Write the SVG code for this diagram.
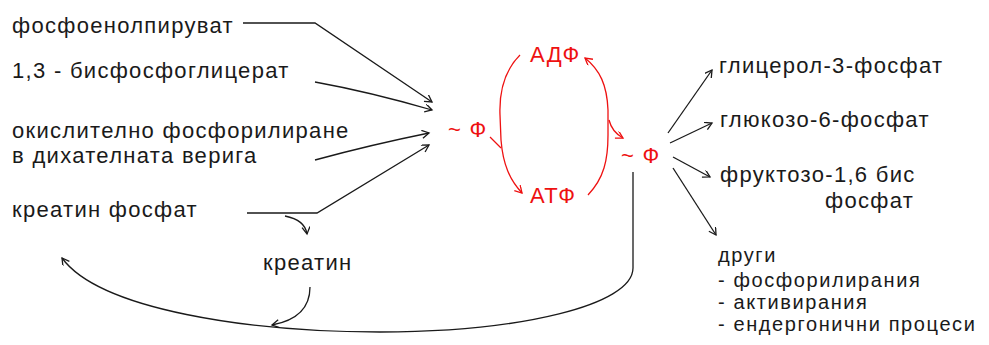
<svg xmlns="http://www.w3.org/2000/svg" width="989" height="345" viewBox="0 0 989 345">
<defs>
<style>
.t{font-family:"Liberation Sans",Arial,sans-serif;font-size:22px;letter-spacing:1.3px;fill:#1a1a1a}
.s{font-family:"Liberation Sans",Arial,sans-serif;font-size:20px;letter-spacing:1.6px;fill:#1a1a1a}
.r{font-family:"Liberation Sans",Arial,sans-serif;font-size:22px;letter-spacing:1.3px;fill:#ee1111}
.k{fill:none;stroke:#1a1a1a;stroke-width:1.3}
.kr{fill:none;stroke:#ee1111;stroke-width:1.3}
</style>
<marker id="ah" markerWidth="10" markerHeight="10" refX="8" refY="4" orient="auto" markerUnits="userSpaceOnUse">
<path d="M1,0 L8,4 L1,8" fill="none" stroke="#1a1a1a" stroke-width="1.3"/>
</marker>
<marker id="ahr" markerWidth="10" markerHeight="10" refX="8" refY="4" orient="auto" markerUnits="userSpaceOnUse">
<path d="M1,0 L8,4 L1,8" fill="none" stroke="#ee1111" stroke-width="1.3"/>
</marker>
</defs>
<rect width="989" height="345" fill="#ffffff"/>
<g id="pep"><text class="t" x="12" y="33">фосфоенолпируват</text></g>
<g id="bpg"><text class="t" x="12" y="78">1,3 - бисфосфоглицерат</text></g>
<g id="oxphos"><text class="t" x="12" y="138">окислително фосфорилиране</text><text class="t" x="12" y="163">в дихателната верига</text></g>
<g id="crp"><text class="t" x="12" y="217">креатин фосфат</text></g>
<g id="creatine"><text class="t" x="263" y="270">креатин</text></g>
<g id="p1"><text class="r" x="448" y="137">~ Ф</text></g>
<g id="adp"><text class="r" x="530" y="62">АДФ</text></g>
<g id="atp"><text class="r" x="530" y="203">АТФ</text></g>
<g id="p2"><text class="r" x="621" y="163">~ Ф</text></g>
<g id="g3p"><text class="t" x="719" y="73">глицерол-3-фосфат</text></g>
<g id="g6p"><text class="t" x="720" y="127">глюкозо-6-фосфат</text></g>
<g id="f16bp"><text class="t" x="720" y="182">фруктозо-1,6 бис</text><text class="t" x="825" y="208">фосфат</text></g>
<g id="other"><text class="s" x="718" y="262">други</text><text class="s" x="718" y="287">- фосфорилирания</text><text class="s" x="718" y="309">- активирания</text><text class="s" x="718" y="331">- ендергонични процеси</text></g>
<g id="connectors">
<path class="k" d="M243,23 L315,23 L432,102" marker-end="url(#ah)"/>
<path class="k" d="M315,82 Q370,92 432,110" marker-end="url(#ah)"/>
<path class="k" d="M315,160 Q370,145 429,133" marker-end="url(#ah)"/>
<path class="k" d="M247,213 L317,213 L429,145" marker-end="url(#ah)"/>
<path class="k" d="M285,216 Q305,220 307,234" marker-end="url(#ah)"/>
<path class="k" d="M310,287 Q310,318 272,325" marker-end="url(#ah)"/>
<path class="k" d="M633,172 V268 C633,305 520,332 380,332 C250,332 100,310 62,258" marker-end="url(#ah)"/>
<path class="k" d="M668,133 L712,70" marker-end="url(#ah)"/>
<path class="k" d="M670,143 L712,123" marker-end="url(#ah)"/>
<path class="k" d="M673,157 L710,177" marker-end="url(#ah)"/>
<path class="k" d="M673,168 L716,235" marker-end="url(#ah)"/>
<path class="kr" d="M520,55 C505,70 499,90 500,115 L501,140 C503,165 510,180 522,193" marker-end="url(#ahr)"/>
<path class="kr" d="M490,137 L501,148"/>
<path class="kr" d="M588,195 C604,178 608,160 608,135 L608,110 C607,85 600,70 585,58" marker-end="url(#ahr)"/>
<path class="kr" d="M609,120 Q612,132 623,138" marker-end="url(#ahr)"/>
</g>
</svg>
